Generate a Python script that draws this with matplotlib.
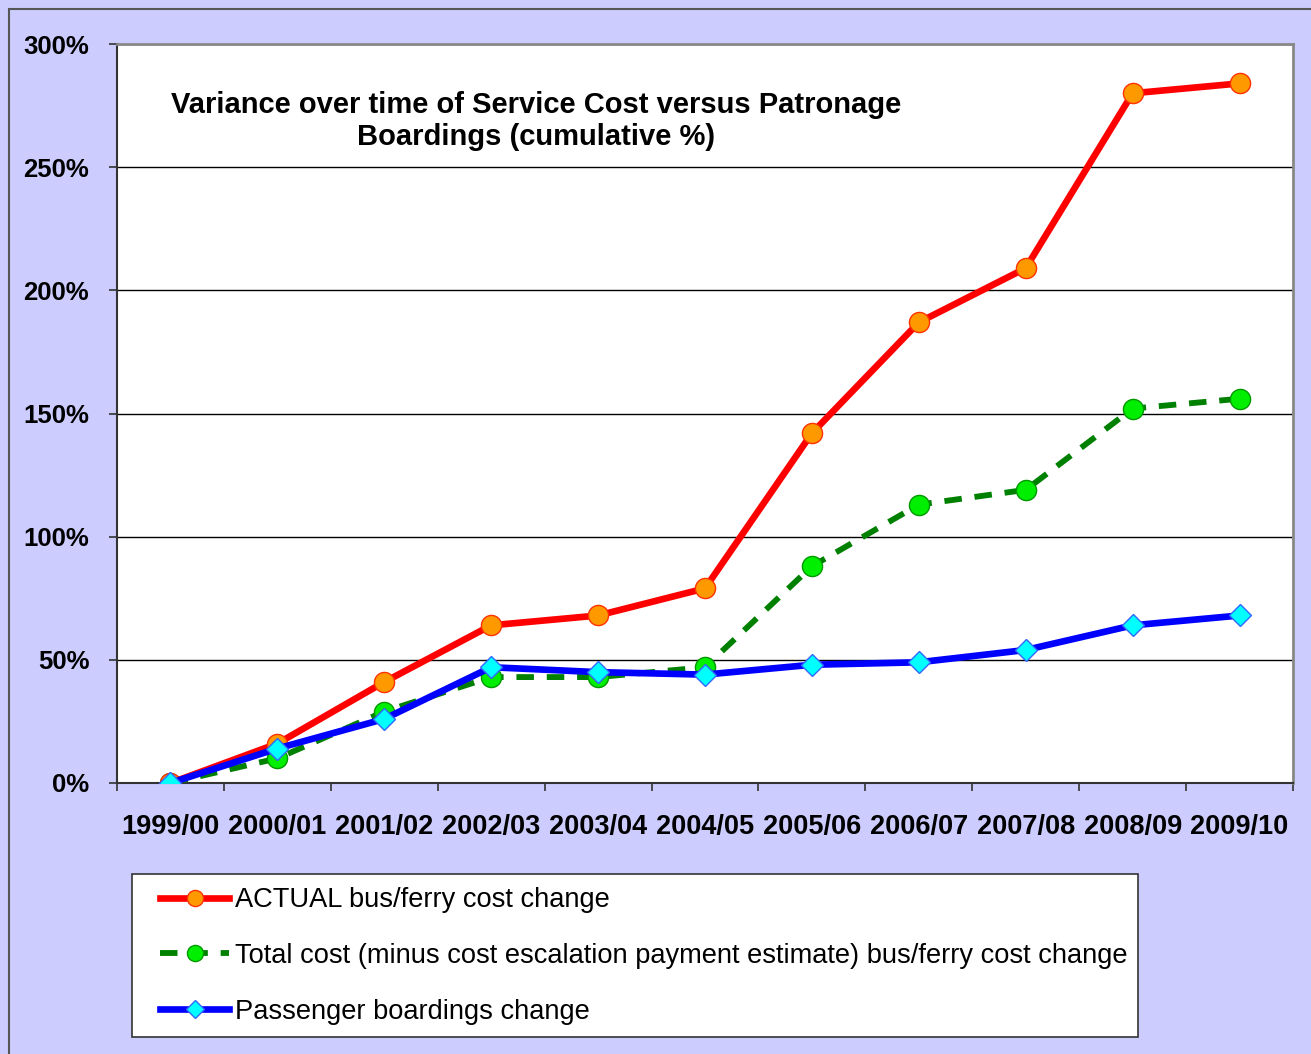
import matplotlib.pyplot as plt
from matplotlib.patches import Rectangle
from matplotlib.ticker import FuncFormatter

plt.rcParams["font.family"] = ["Liberation Sans", "DejaVu Sans"]

years = ["1999/00", "2000/01", "2001/02", "2002/03", "2003/04", "2004/05",
         "2005/06", "2006/07", "2007/08", "2008/09", "2009/10"]

actual_cost = [0, 16, 41, 64, 68, 79, 142, 187, 209, 280, 284]
total_cost = [0, 10, 29, 43, 43, 47, 88, 113, 119, 152, 156]
boardings = [0, 14, 26, 47, 45, 44, 48, 49, 54, 64, 68]

labels = [
    "ACTUAL bus/ferry cost change",
    "Total cost (minus cost escalation payment estimate) bus/ferry cost change",
    "Passenger boardings change",
]

W, H = 1311, 1054
fig = plt.figure(figsize=(W / 100, H / 100), dpi=100)
fig.patch.set_facecolor("#CCCCFF")

# outer frame of the chart area
fig.patches.append(Rectangle((9 / W, -0.1), 1.2, 1.1 - 9 / H, transform=fig.transFigure,
                             fill=False, edgecolor="#555555", linewidth=1.5, zorder=0))

# legend box
fig.patches.append(Rectangle((132 / W, 1 - 1037 / H), (1138 - 132) / W, (1037 - 874) / H,
                             transform=fig.transFigure, facecolor="white",
                             edgecolor="#333333", linewidth=1.2, zorder=0))

left, right, top, bottom = 117, 1293, 44, 783
ax = fig.add_axes([left / W, 1 - bottom / H, (right - left) / W, (bottom - top) / H])
ax.set_facecolor("white")

x = list(range(len(years)))

ax.plot(x, actual_cost, color="#FF0000", linewidth=4.8, marker="o", markersize=14.5,
        markerfacecolor="#FF9900", markeredgecolor="#FF3300", markeredgewidth=1,
        label=labels[0], zorder=4)
ax.plot(x, total_cost, color="#008000", linewidth=4.2, linestyle=(0, (3, 2.2)), marker="o",
        markersize=14.5, markerfacecolor="#00EE00", markeredgecolor="#009900",
        markeredgewidth=1, label=labels[1], zorder=3)
ax.plot(x, boardings, color="#0000FF", linewidth=4.8, marker="D", markersize=11.5,
        markerfacecolor="#00FFFF", markeredgecolor="#3366FF", markeredgewidth=1,
        label=labels[2], zorder=5)

ax.set_xlim(-0.5, len(years) - 0.5)
ax.set_ylim(0, 300)
ax.set_yticks(range(0, 301, 50))
ax.yaxis.set_major_formatter(FuncFormatter(lambda v, p: f"{v:.0f}%"))
ax.grid(axis="y", color="black", linewidth=1)
ax.set_axisbelow(True)

ax.set_xticks([i - 0.5 for i in range(len(years) + 1)])
ax.set_xticklabels([])
ax.set_xticks(x, minor=True)
ax.set_xticklabels(years, minor=True)
ax.tick_params(axis="x", which="major", direction="out", length=6, width=1.2, color="#333333")
ax.tick_params(axis="x", which="minor", length=0, pad=22, labelsize=19.5)
ax.tick_params(axis="y", direction="out", length=6, width=1.2, color="#333333",
               pad=14, labelsize=18.5)
for t in ax.get_xticklabels(minor=True) + ax.get_yticklabels():
    t.set_fontweight("bold")

for side in ["left", "bottom"]:
    ax.spines[side].set_color("#333333")
    ax.spines[side].set_linewidth(1.5)
for side in ["top", "right"]:
    ax.spines[side].set_color("#888888")
    ax.spines[side].set_linewidth(2)

fig.text(536 / W, 1 - 121 / H,
         "Variance over time of Service Cost versus Patronage\nBoardings (cumulative %)",
         ha="center", va="center", fontsize=21, fontweight="bold", linespacing=1.2)

handles, _ = ax.get_legend_handles_labels()
leg = fig.legend(handles, labels, loc="center left",
                 bbox_to_anchor=(160 / W, 1 - 956 / H),
                 fontsize=19.6, frameon=False, handlelength=2.55, handletextpad=0.2,
                 labelspacing=1.1, borderpad=0, borderaxespad=0, markerscale=0.8)

fig.savefig("out.png", dpi=100, facecolor=fig.get_facecolor())
